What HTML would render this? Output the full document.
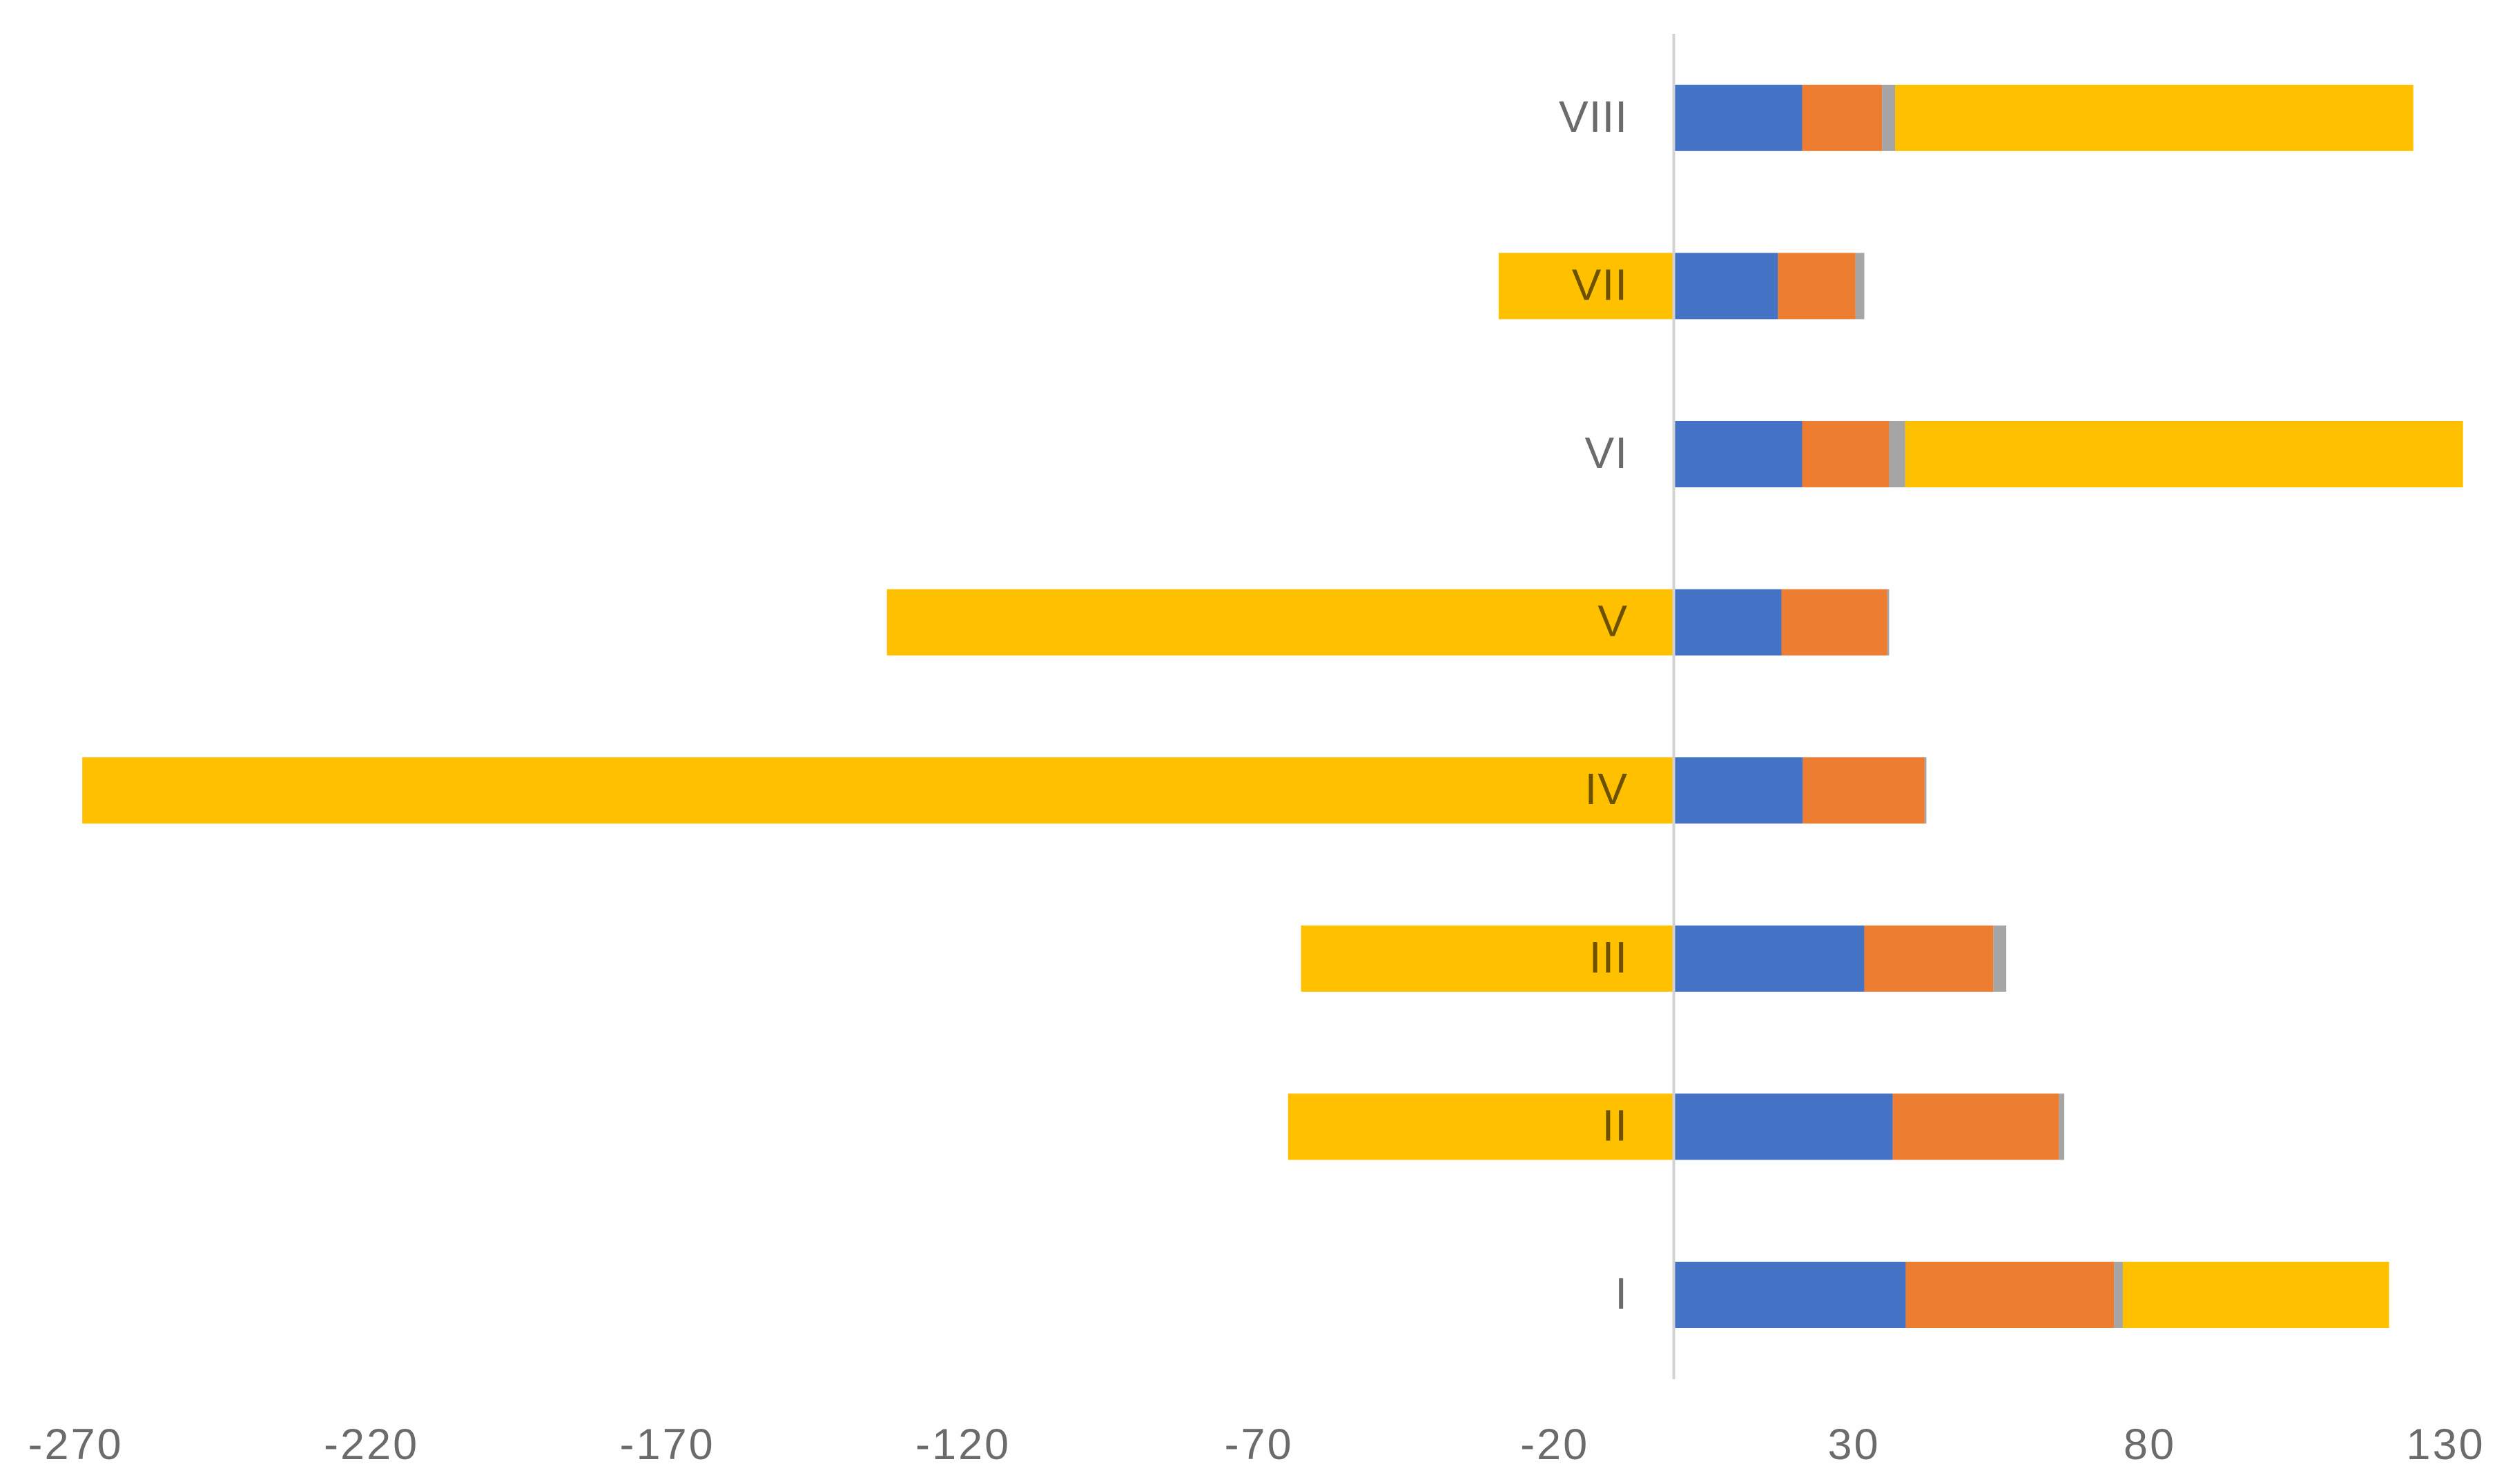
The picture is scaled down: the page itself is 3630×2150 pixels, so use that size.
<!DOCTYPE html>
<html lang="en">
<head>
<meta charset="utf-8">
<title>Stacked bar chart</title>
<style>
html,body{margin:0;padding:0;background:#fefefe;}
svg{display:block;}
text{font-family:"Liberation Sans",sans-serif;}
</style>
</head>
<body>
<svg id="chart" xmlns="http://www.w3.org/2000/svg" width="3630" height="2150" viewBox="0 0 3630 2150">
  <rect x="0" y="0" width="3630" height="2150" fill="#fefefe"/>
</svg>
<script>
const categories = ['I', 'II', 'III', 'IV', 'V', 'VI', 'VII', 'VIII'];
const seriesBlue = [39.2, 37.0, 32.2, 21.8, 18.2, 21.7, 17.6, 21.7];
const seriesOrange = [35.2, 28.1, 21.8, 20.6, 17.9, 14.7, 13.1, 13.5];
const seriesGray = [1.5, 0.9, 2.2, 0.3, 0.3, 2.7, 1.5, 2.2];
const seriesYellow = [45.0, -65.2, -63.0, -269.0, -133.0, 94.3, -29.6, 87.6];
const xTicks = [-270, -220, -170, -120, -70, -20, 30, 80, 130];

const seriesNames = ['blue', 'orange', 'gray', 'yellow'];
const seriesValues = [seriesBlue, seriesOrange, seriesGray, seriesYellow];
const seriesColors = ['#4472C4', '#ED7D31', '#A5A5A5', '#FFC000'];

const NS = 'http://www.w3.org/2000/svg';
const svg = document.getElementById('chart');

function xScale(v) {
  return 2424.5 + 8.57 * v;
}
function yCenter(i) {
  return 1876 - i * 243.6;
}
const barHeight = 96;

categories.forEach(function (cat, i) {
  let pos = 0;
  let neg = 0;
  seriesValues.forEach(function (values, s) {
    const v = values[i];
    let x0, x1;
    if (v >= 0) {
      x0 = xScale(pos);
      pos += v;
      x1 = xScale(pos);
    } else {
      x1 = xScale(neg);
      neg += v;
      x0 = xScale(neg);
    }
    const r = document.createElementNS(NS, 'rect');
    
    
    r.setAttribute('x', x0);
    r.setAttribute('y', yCenter(i) - barHeight / 2);
    r.setAttribute('width', x1 - x0);
    r.setAttribute('height', barHeight);
    r.setAttribute('fill', seriesColors[s]);
    svg.appendChild(r);
  });
});

const axisLine = document.createElementNS(NS, 'line');


axisLine.setAttribute('x1', xScale(0));
axisLine.setAttribute('x2', xScale(0));
axisLine.setAttribute('y1', 49);
axisLine.setAttribute('y2', 1998);
axisLine.setAttribute('stroke', '#d2d2d2');
axisLine.setAttribute('stroke-width', 4);
svg.appendChild(axisLine);

categories.forEach(function (cat, i) {
  const t = document.createElementNS(NS, 'text');
  
  
  t.setAttribute('x', 2358);
  t.setAttribute('y', yCenter(i) + 20);
  t.setAttribute('text-anchor', 'end');
  t.setAttribute('font-size', 64);
  t.setAttribute('letter-spacing', 1);
  t.setAttribute('fill', '#000');
  t.setAttribute('fill-opacity', '0.58');
  t.textContent = cat;
  svg.appendChild(t);
});

xTicks.forEach(function (tick) {
  const t = document.createElementNS(NS, 'text');
  
  
  t.setAttribute('x', xScale(tick) + (tick < 0 ? -1 : 4));
  t.setAttribute('y', 2114);
  t.setAttribute('text-anchor', 'middle');
  t.setAttribute('font-size', 63);
  t.setAttribute('letter-spacing', 3);
  t.setAttribute('fill', '#000');
  t.setAttribute('fill-opacity', '0.58');
  t.textContent = String(tick);
  svg.appendChild(t);
});
</script>
</body>
</html>
